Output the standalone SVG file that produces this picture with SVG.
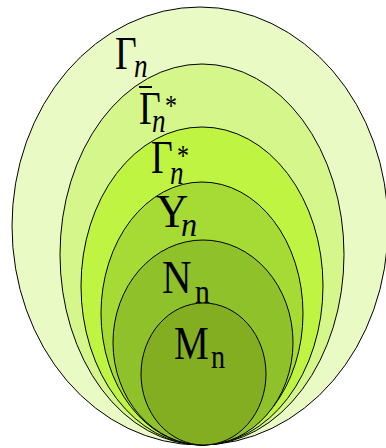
<svg xmlns="http://www.w3.org/2000/svg" width="386" height="448" viewBox="0 0 386 448">
<style>
ellipse{stroke:#000;stroke-width:1}
text{font-family:"Liberation Serif","Times New Roman",serif;fill:#000;font-size:47px}
.sub{font-size:34px}
.it{font-style:italic}
.star{font-size:30px}
</style>
<rect width="386" height="448" fill="#fff"/>
<g id="gamma">
<ellipse cx="200" cy="226" rx="188" ry="219" fill="#E9FAC4"/>
<text transform="translate(115 69) scale(0.8 1)">Γ<tspan class="sub it" x="23.75" y="8">n</tspan></text>
</g>
<g id="gammabarstar">
<ellipse cx="202" cy="254.5" rx="142" ry="190.5" fill="#D5F68A"/>
<line x1="139" y1="87" x2="152" y2="87" stroke="#000" stroke-width="2"/>
<text transform="translate(139 124) scale(0.8 1)">Γ<tspan class="star" x="32.5" y="-9">*</tspan><tspan class="sub it" x="16.25" y="8">n</tspan></text>
</g>
<g id="gammastar">
<ellipse cx="202" cy="286" rx="121" ry="159" fill="#C0F443"/>
<text transform="translate(151 173) scale(0.8 1)">Γ<tspan class="star" x="32.5" y="-8">*</tspan><tspan class="sub it" x="23.75" y="11">n</tspan></text>
</g>
<g id="upsilon">
<ellipse cx="202" cy="313.5" rx="101" ry="131.5" fill="#A6DA34"/>
<text transform="translate(156 227) scale(0.95 1)">Υ<tspan class="sub it" x="26.3" y="9">n</tspan></text>
</g>
<g id="nn">
<ellipse cx="203" cy="342.5" rx="90" ry="102.5" fill="#8FC22A"/>
<text transform="translate(162 293) scale(0.87 1)">N<tspan class="sub" x="37.9" y="10">n</tspan></text>
</g>
<g id="mn">
<ellipse cx="203.5" cy="374" rx="62.5" ry="71" fill="#84AE22"/>
<text transform="translate(174 359) scale(0.83 1)">M<tspan class="sub" x="44.6" y="9">n</tspan></text>
</g>
</svg>
